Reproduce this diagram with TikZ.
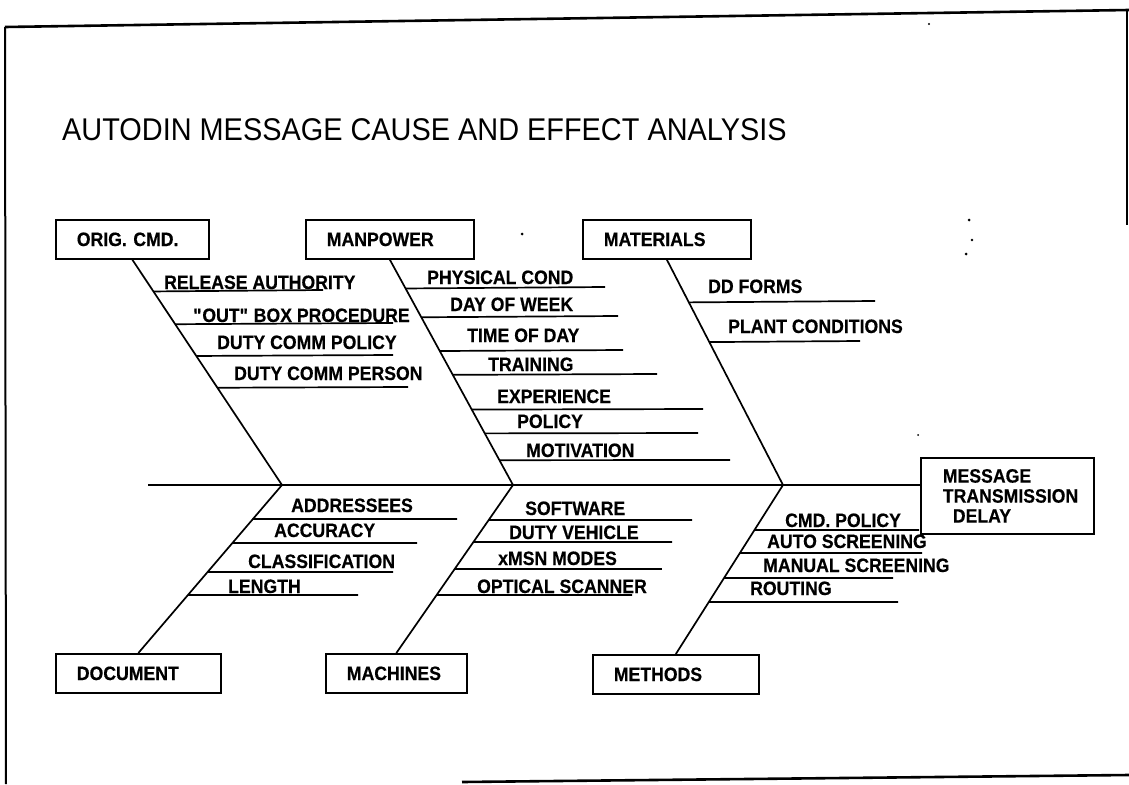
\documentclass[tikz,border=0pt]{standalone}
\usepackage{fontspec}
\setmainfont{Liberation Sans}
\newfontfamily\lblfam{Liberation Sans}[FakeStretch=0.91, FakeBold=0.4]
\newfontfamily\headfam{Liberation Sans}[FakeStretch=0.92]
\usetikzlibrary{calc}
\newcommand\lblfont{\lblfam\bfseries\fontsize{19.4}{20}\selectfont}
\newcommand\headfont{\headfam\fontsize{31.4}{34}\selectfont}
% one rib: #1,#2 bone ends, #3,#4 their y, #5 rib y, #6 rib end x, #7 name
\newcommand\ribline[7]{%
  \coordinate (#7a) at ($(#1)!{(#5-#3)/(#4-#3)}!(#2)$);
  \coordinate (#7b) at (#6,#5);
  \draw[rib] (#7a) -- (#7b);
}
\begin{document}
\begin{tikzpicture}[x=1pt,y=-1pt,
  bone/.style={line width=1.7pt},
  rib/.style={line width=1.7pt},
  frame/.style={line width=2.6pt},
  catbox/.style={draw, line width=1.7pt, anchor=north west, minimum height=39pt,
                 inner xsep=21pt, align=left, font=\lblfont},
  lbl/.style={anchor=base west, inner sep=0pt, font=\lblfont}]
\useasboundingbox (0,0) rectangle (1129,784);

% page frame
\coordinate (f1) at (5,27);
\coordinate (f2) at (1129,10);
\coordinate (f3) at (6,784);
\coordinate (f4) at (1127,10);
\coordinate (f5) at (1127,225);
\coordinate (f6) at (462,782);
\coordinate (f7) at (1129,775);
\draw[frame] (f1) -- (f2);
\draw[line width=2pt] (f1) -- (f3);
\draw[line width=1.6pt] (f4) -- (f5);
\draw[frame] (f6) -- (f7);

% title
\node[anchor=base west, inner sep=0pt, font=\headfont] (title) at (62,140)
  {AUTODIN MESSAGE CAUSE AND EFFECT ANALYSIS};

% category boxes
\node[catbox, text width=111pt, minimum width=153pt] (orig) at (55,219) {ORIG. CMD.};
\node[catbox, text width=126pt, minimum width=168pt] (manp) at (305,219) {MANPOWER};
\node[catbox, text width=126pt, minimum width=168pt] (matl) at (582,219) {MATERIALS};
\node[catbox, text width=123pt, minimum width=165pt] (docu) at (55,653) {DOCUMENT};
\node[catbox, text width=99pt, minimum width=141pt] (mach) at (325,653) {MACHINES};
\node[catbox, text width=124pt, minimum width=166pt] (meth) at (592,654) {METHODS};

% effect box
\node[draw, line width=1.7pt, anchor=north west, minimum height=76pt,
      inner xsep=22pt, text width=129pt, align=left, font=\lblfont] (effect) at (920,457)
  {MESSAGE\\\makebox[129pt][l]{TRANSMISSION}\\\hspace*{10pt}DELAY};

% spine and bones
\coordinate (tail) at (148,485);
\coordinate (j1) at (282,485);
\coordinate (j2) at (513,485);
\coordinate (j3) at (783,485);
\draw[bone] (tail) -- (tail -| effect.west);
\draw[bone] (orig.south) -- (j1);
\draw[bone] (manp.south) -- (j2);
\draw[bone] (matl.south) -- (j3);
\draw[bone] (j1) -- (docu.north);
\draw[bone] (j2) -- (mach.north);
\draw[bone] (j3) -- (meth.north);

% ribs on the upper bones
\ribline{orig.south}{j1}{258}{485}{290}{323}{ra}
\ribline{orig.south}{j1}{258}{485}{323}{393}{rb}
\ribline{orig.south}{j1}{258}{485}{355}{393}{rc}
\ribline{orig.south}{j1}{258}{485}{387}{408}{rd}

\ribline{manp.south}{j2}{258}{485}{287}{605}{re}
\ribline{manp.south}{j2}{258}{485}{316}{618}{rf}
\ribline{manp.south}{j2}{258}{485}{350}{623}{rg}
\ribline{manp.south}{j2}{258}{485}{374}{657}{rh}
\ribline{manp.south}{j2}{258}{485}{409}{703}{ri}
\ribline{manp.south}{j2}{258}{485}{433}{698}{rj}
\ribline{manp.south}{j2}{258}{485}{460}{730}{rk}

\ribline{matl.south}{j3}{258}{485}{301}{875}{rl}
\ribline{matl.south}{j3}{258}{485}{341}{860}{rm}

% ribs on the lower bones
\ribline{j1}{docu.north}{485}{653}{519}{457}{rn}
\ribline{j1}{docu.north}{485}{653}{543}{417}{ro}
\ribline{j1}{docu.north}{485}{653}{572}{393}{rp}
\ribline{j1}{docu.north}{485}{653}{595}{358}{rq}

\ribline{j2}{mach.north}{485}{653}{520}{692}{rr}
\ribline{j2}{mach.north}{485}{653}{542}{672}{rs}
\ribline{j2}{mach.north}{485}{653}{569}{662}{rt}
\ribline{j2}{mach.north}{485}{653}{595}{632}{ru}

\ribline{j3}{meth.north}{485}{654}{530}{919}{rv}
\ribline{j3}{meth.north}{485}{654}{553}{922}{rw}
\ribline{j3}{meth.north}{485}{654}{578}{893}{rx}
\ribline{j3}{meth.north}{485}{654}{602}{898}{ry}

% cause labels
\node[lbl] (la) at (164,289) {RELEASE AUTHORITY};
\node[lbl] (lb) at (193,322) {\textquotedbl OUT\textquotedbl{} BOX PROCEDURE};
\node[lbl] (lc) at (217,349) {DUTY COMM POLICY};
\node[lbl] (ld) at (234,380) {DUTY COMM PERSON};

\node[lbl] (le) at (427,284) {PHYSICAL COND};
\node[lbl] (lf) at (450,311) {DAY OF WEEK};
\node[lbl] (lg) at (467,342) {TIME OF DAY};
\node[lbl] (lh) at (488,371) {TRAINING};
\node[lbl] (li) at (497,403) {EXPERIENCE};
\node[lbl] (lj) at (517,428) {POLICY};
\node[lbl] (lk) at (526,457) {MOTIVATION};

\node[lbl] (ll) at (708,293) {DD FORMS};
\node[lbl] (lm) at (728,333) {PLANT CONDITIONS};

\node[lbl] (ln) at (291,512) {ADDRESSEES};
\node[lbl] (lo) at (274,537) {ACCURACY};
\node[lbl] (lp) at (248,568) {CLASSIFICATION};
\node[lbl] (lq) at (228,593) {LENGTH};

\node[lbl] (lr) at (525,515) {SOFTWARE};
\node[lbl] (ls) at (509,539) {DUTY VEHICLE};
\node[lbl] (lt) at (498,565) {xMSN MODES};
\node[lbl] (lu) at (477,593) {OPTICAL SCANNER};

\node[lbl] (lv) at (785,527) {CMD. POLICY};
\node[lbl] (lw) at (767,548) {AUTO SCREENING};
\node[lbl] (lx) at (763,572) {MANUAL SCREENING};
\node[lbl] (ly) at (750,595) {ROUTING};

% specks
\fill (929,24) circle (1.2);
\fill (522,234) circle (1.5);
\fill (969,220) circle (1.5);
\fill (972,240) circle (1.3);
\fill (966,254) circle (1.5);
\fill (918,435) circle (1);
\end{tikzpicture}
\end{document}
